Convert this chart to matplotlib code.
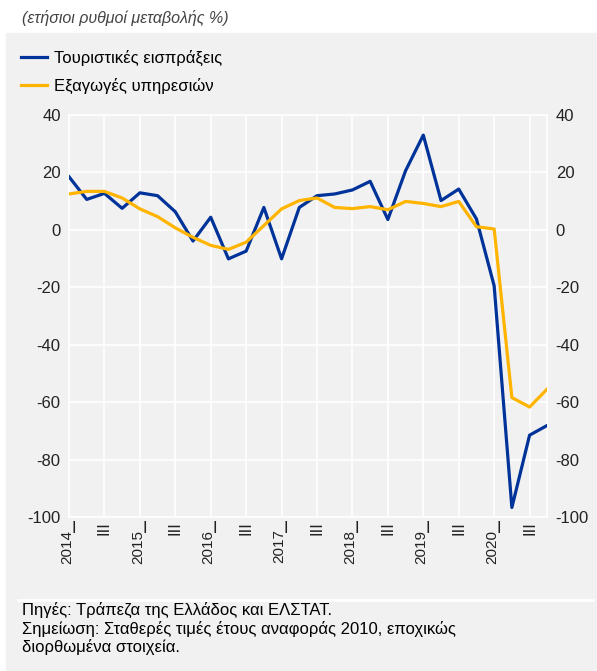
import matplotlib.pyplot as plt
import matplotlib.transforms as mtransforms
from matplotlib.patches import Rectangle
from matplotlib.lines import Line2D

plt.rcParams['font.family'] = ['Liberation Sans', 'DejaVu Sans']

# quarterly data, 2014 Q1 - 2020 Q4
years = [2014, 2015, 2016, 2017, 2018, 2019, 2020]
tourism = [18.5, 10.6, 12.7, 7.5, 12.9, 11.9, 6.3, -3.9,
           4.4, -10.1, -7.4, 7.8, -10.1, 7.8, 11.9, 12.5,
           13.9, 16.9, 3.6, 20.6, 33.0, 10.2, 14.2, 3.8,
           -19.5, -96.7, -71.5, -68.1]
services = [12.5, 13.4, 13.4, 11.1, 7.3, 4.6, 0.7, -2.6,
            -5.4, -6.8, -4.3, 1.5, 7.3, 10.2, 11.1, 7.8,
            7.4, 8.1, 7.0, 9.9, 9.2, 8.1, 9.9, 1.1,
            0.3, -58.4, -61.7, -55.4]
names = ['Τουριστικές εισπράξεις', 'Εξαγωγές υπηρεσιών']
yticks = [-100, -80, -60, -40, -20, 0, 20, 40]

blue = '#003399'
yellow = '#ffb400'
bg = '#f1f1f1'
tc = '#222222'

fig = plt.figure(figsize=(5.97, 6.71), dpi=100, facecolor='white')
W, H = 597, 671

# grey panel + separator line
fig.patches.append(Rectangle((6 / W, 0), 1 - 6 / W, 1 - 33 / H,
                             transform=fig.transFigure, color=bg, zorder=-5))
fig.add_artist(Line2D([18 / W, 593 / W], [1 - 600 / H, 1 - 600 / H],
                      transform=fig.transFigure, color='white', lw=2))

ax = fig.add_axes([69 / W, 1 - 517 / H, (547.3 - 69) / W, (517 - 115) / H])
ax.set_facecolor(bg)

x = list(range(len(tourism)))
ax.plot(x, tourism, color=blue, lw=2.3, label=names[0], zorder=3)
ax.plot(x, services, color=yellow, lw=2.3, label=names[1], zorder=3)

ax.set_xlim(0, len(tourism) - 1)
ax.set_ylim(-100, 40)
ax.set_yticks(yticks)
ax.set_yticklabels([str(v) for v in yticks])

# x labels: rotated year + upright "I" for Q1, rotated "III" for Q3
xt = list(range(0, len(tourism), 2))
ax.set_xticks(xt)
ax.set_xticklabels([])
base = ax.get_xaxis_transform()
for i in xt:
    if i % 4 == 0:
        t1 = mtransforms.offset_copy(base, fig=fig, x=-1.5, y=-9.0, units='points')
        ax.text(i, 0, str(years[i // 4]), transform=t1, rotation=90,
                ha='center', va='top', fontsize=11, color=tc)
        t2 = mtransforms.offset_copy(base, fig=fig, x=3.3, y=-3.0, units='points')
        ax.text(i, 0, 'I', transform=t2, ha='center', va='top',
                fontsize=12, color=tc)
    else:
        t3 = mtransforms.offset_copy(base, fig=fig, x=0, y=-3.0, units='points')
        ax.text(i, 0, 'III', transform=t3, rotation=90,
                ha='center', va='top', fontsize=12, color=tc)

ax.grid(True, color='white', lw=1.2)
ax.set_axisbelow(True)
for s in ax.spines.values():
    s.set_color('white')
    s.set_linewidth(1.2)
ax.tick_params(axis='both', length=0, labelsize=12, colors=tc)
ax.tick_params(axis='y', labelright=True, pad=6)

fig.text(22 / W, 1 - 18 / H, '(ετήσιοι ρυθμοί μεταβολής %)', style='italic',
         fontsize=11.5, color='#444444', va='center', ha='left')

leg = fig.legend(loc='upper left', bbox_to_anchor=(14 / W, 1 - 43 / H),
                 frameon=False, fontsize=12, handlelength=1.6,
                 handletextpad=0.4, labelspacing=0.75, borderaxespad=0)

fig.text(22 / W, 1 - 602 / H,
         'Πηγές: Τράπεζα της Ελλάδος και ΕΛΣΤΑΤ.\n'
         'Σημείωση: Σταθερές τιμές έτους αναφοράς 2010, εποχικώς\n'
         'διορθωμένα στοιχεία.',
         fontsize=12, va='top', ha='left', linespacing=1.2)

fig.savefig('out.png', dpi=100, facecolor='white')
